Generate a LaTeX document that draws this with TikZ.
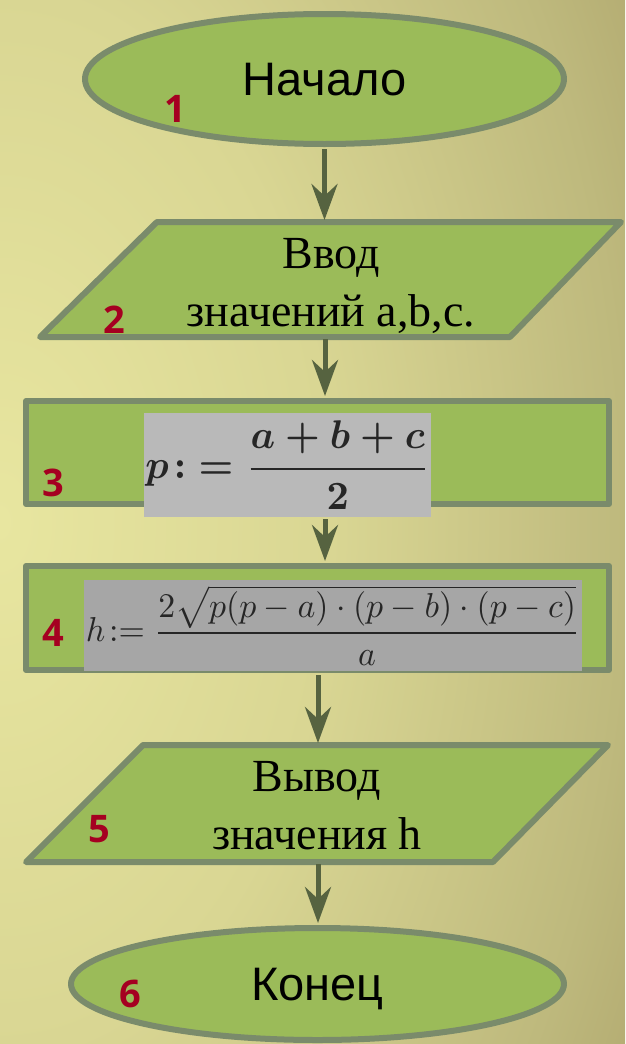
\documentclass[tikz,border=0pt]{standalone}
\usepackage{fontspec}
\setmainfont{Liberation Serif}
\newfontfamily\sansf{Liberation Sans}
\newfontfamily\numf{Open Sans}
\usepackage{graphicx}
\usetikzlibrary{shapes.geometric,arrows.meta,calc}
\definecolor{bgA}{HTML}{E8E6A0}
\definecolor{bgB}{HTML}{D9D693}
\definecolor{bgC}{HTML}{BEB97D}
\definecolor{bgD}{HTML}{B4AC72}
\definecolor{shapefill}{HTML}{9BBB59}
\definecolor{shapeline}{HTML}{7A8B6B}
\definecolor{arrowc}{HTML}{566340}
\definecolor{numred}{HTML}{A50021}
\definecolor{formA}{HTML}{B9B9B9}
\definecolor{formB}{HTML}{A6A6A6}
\pgfdeclareradialshading{bgshade}{\pgfpoint{0bp}{0bp}}{color(0bp)=(bgA); color(11.5bp)=(bgB); color(21.7bp)=(bgC); color(25bp)=(bgD); color(50bp)=(bgD)}
\begin{document}
\begin{tikzpicture}[x=1pt,y=-1pt,
  blk/.style={draw=shapeline, line width=6pt, fill=shapefill, line join=round, inner sep=0pt},
  ghost/.style={inner sep=0pt, outer sep=0pt},
  flow/.style={draw=arrowc, line width=5pt, -{Stealth[length=36pt,width=26pt,inset=12pt]}, shorten >=2pt, shorten <=2pt},
  num/.style={text=numred, font=\numf\bfseries\fontsize{38}{38}\selectfont, inner sep=0pt},
  term/.style={font=\sansf\fontsize{47}{47}\selectfont, text depth=0pt},
  iotext/.style={font=\fontsize{46}{58}\selectfont, align=center, inner sep=0pt},
  formula/.style={inner sep=0pt, text=black!85}
]
\useasboundingbox (0,0) rectangle (625,1044);
\begin{scope}
  \clip (0,0) rectangle (625,1044);
  \fill[bgD] (0,0) rectangle (625,1044);
  \shade[shading=bgshade] (0,522) ellipse [x radius=720, y radius=1152];
\end{scope}

% 1
\node[ellipse, blk, term, minimum width=479pt, minimum height=130pt] (n1) at (324.5,79) {Начало};
\node[num] (l1) at (175,109) {1};

% 2
\node[ghost, minimum width=470pt, minimum height=115pt] (n2) at (325,279.5) {};
\draw[blk] (157,222) -- (621,222) -- (510,337) -- (40,337) -- cycle;
\node[iotext] (t2) at (331,285.5) {Ввод\\значений a,b,c.};
\node[num] (l2) at (114,319.5) {2};

% 3
\node[rectangle, blk, minimum width=583pt, minimum height=103pt] (r3) at (317.5,452.5) {};
\node[formula, fill=formA, minimum width=287pt, minimum height=104pt] (f3) at (287.5,465)
  {\resizebox*{284pt}{88pt}{\boldmath$\displaystyle p\!:\;=\frac{a+b+c}{2}$}};
\node[num] (l3) at (53.5,483) {3};

% 4
\node[rectangle, blk, minimum width=583pt, minimum height=104pt] (r4) at (317.5,618) {};
\node[formula, fill=formB, minimum width=498pt, minimum height=91pt] (f4) at (333,625.5)
  {\resizebox*{494pt}{80pt}{$\displaystyle h\!:=\frac{2\sqrt{p(p-a)\cdot(p-b)\cdot(p-c)}}{a}$}};
\node[num] (l4) at (53.5,633) {4};

% 5
\node[ghost, minimum width=470pt, minimum height=117pt] (n5) at (318,803.5) {};
\draw[blk] (143,745) -- (608,745) -- (493,862) -- (26,862) -- cycle;
\node[iotext] (t5) at (317,806) {Вывод\\значения h};
\node[num] (l5) at (99,829) {5};

% 6
\node[ellipse, blk, term, minimum width=493pt, minimum height=112pt] (n6) at (317.5,984) {Конец};
\node[num] (l6) at (130,994) {6};

% connectors
\draw[flow] (n1.south) -- (n1.south |- n2.north);
\draw[flow] (n2.south) -- (n2.south |- r3.north);
\draw[flow] (f3.south -| n2.south) -- (r4.north -| n2.south);
\draw[flow] (r4.south -| n5.north) -- (n5.north);
\draw[flow] (n5.south) -- (n5.south |- n6.north);
\end{tikzpicture}
\end{document}
